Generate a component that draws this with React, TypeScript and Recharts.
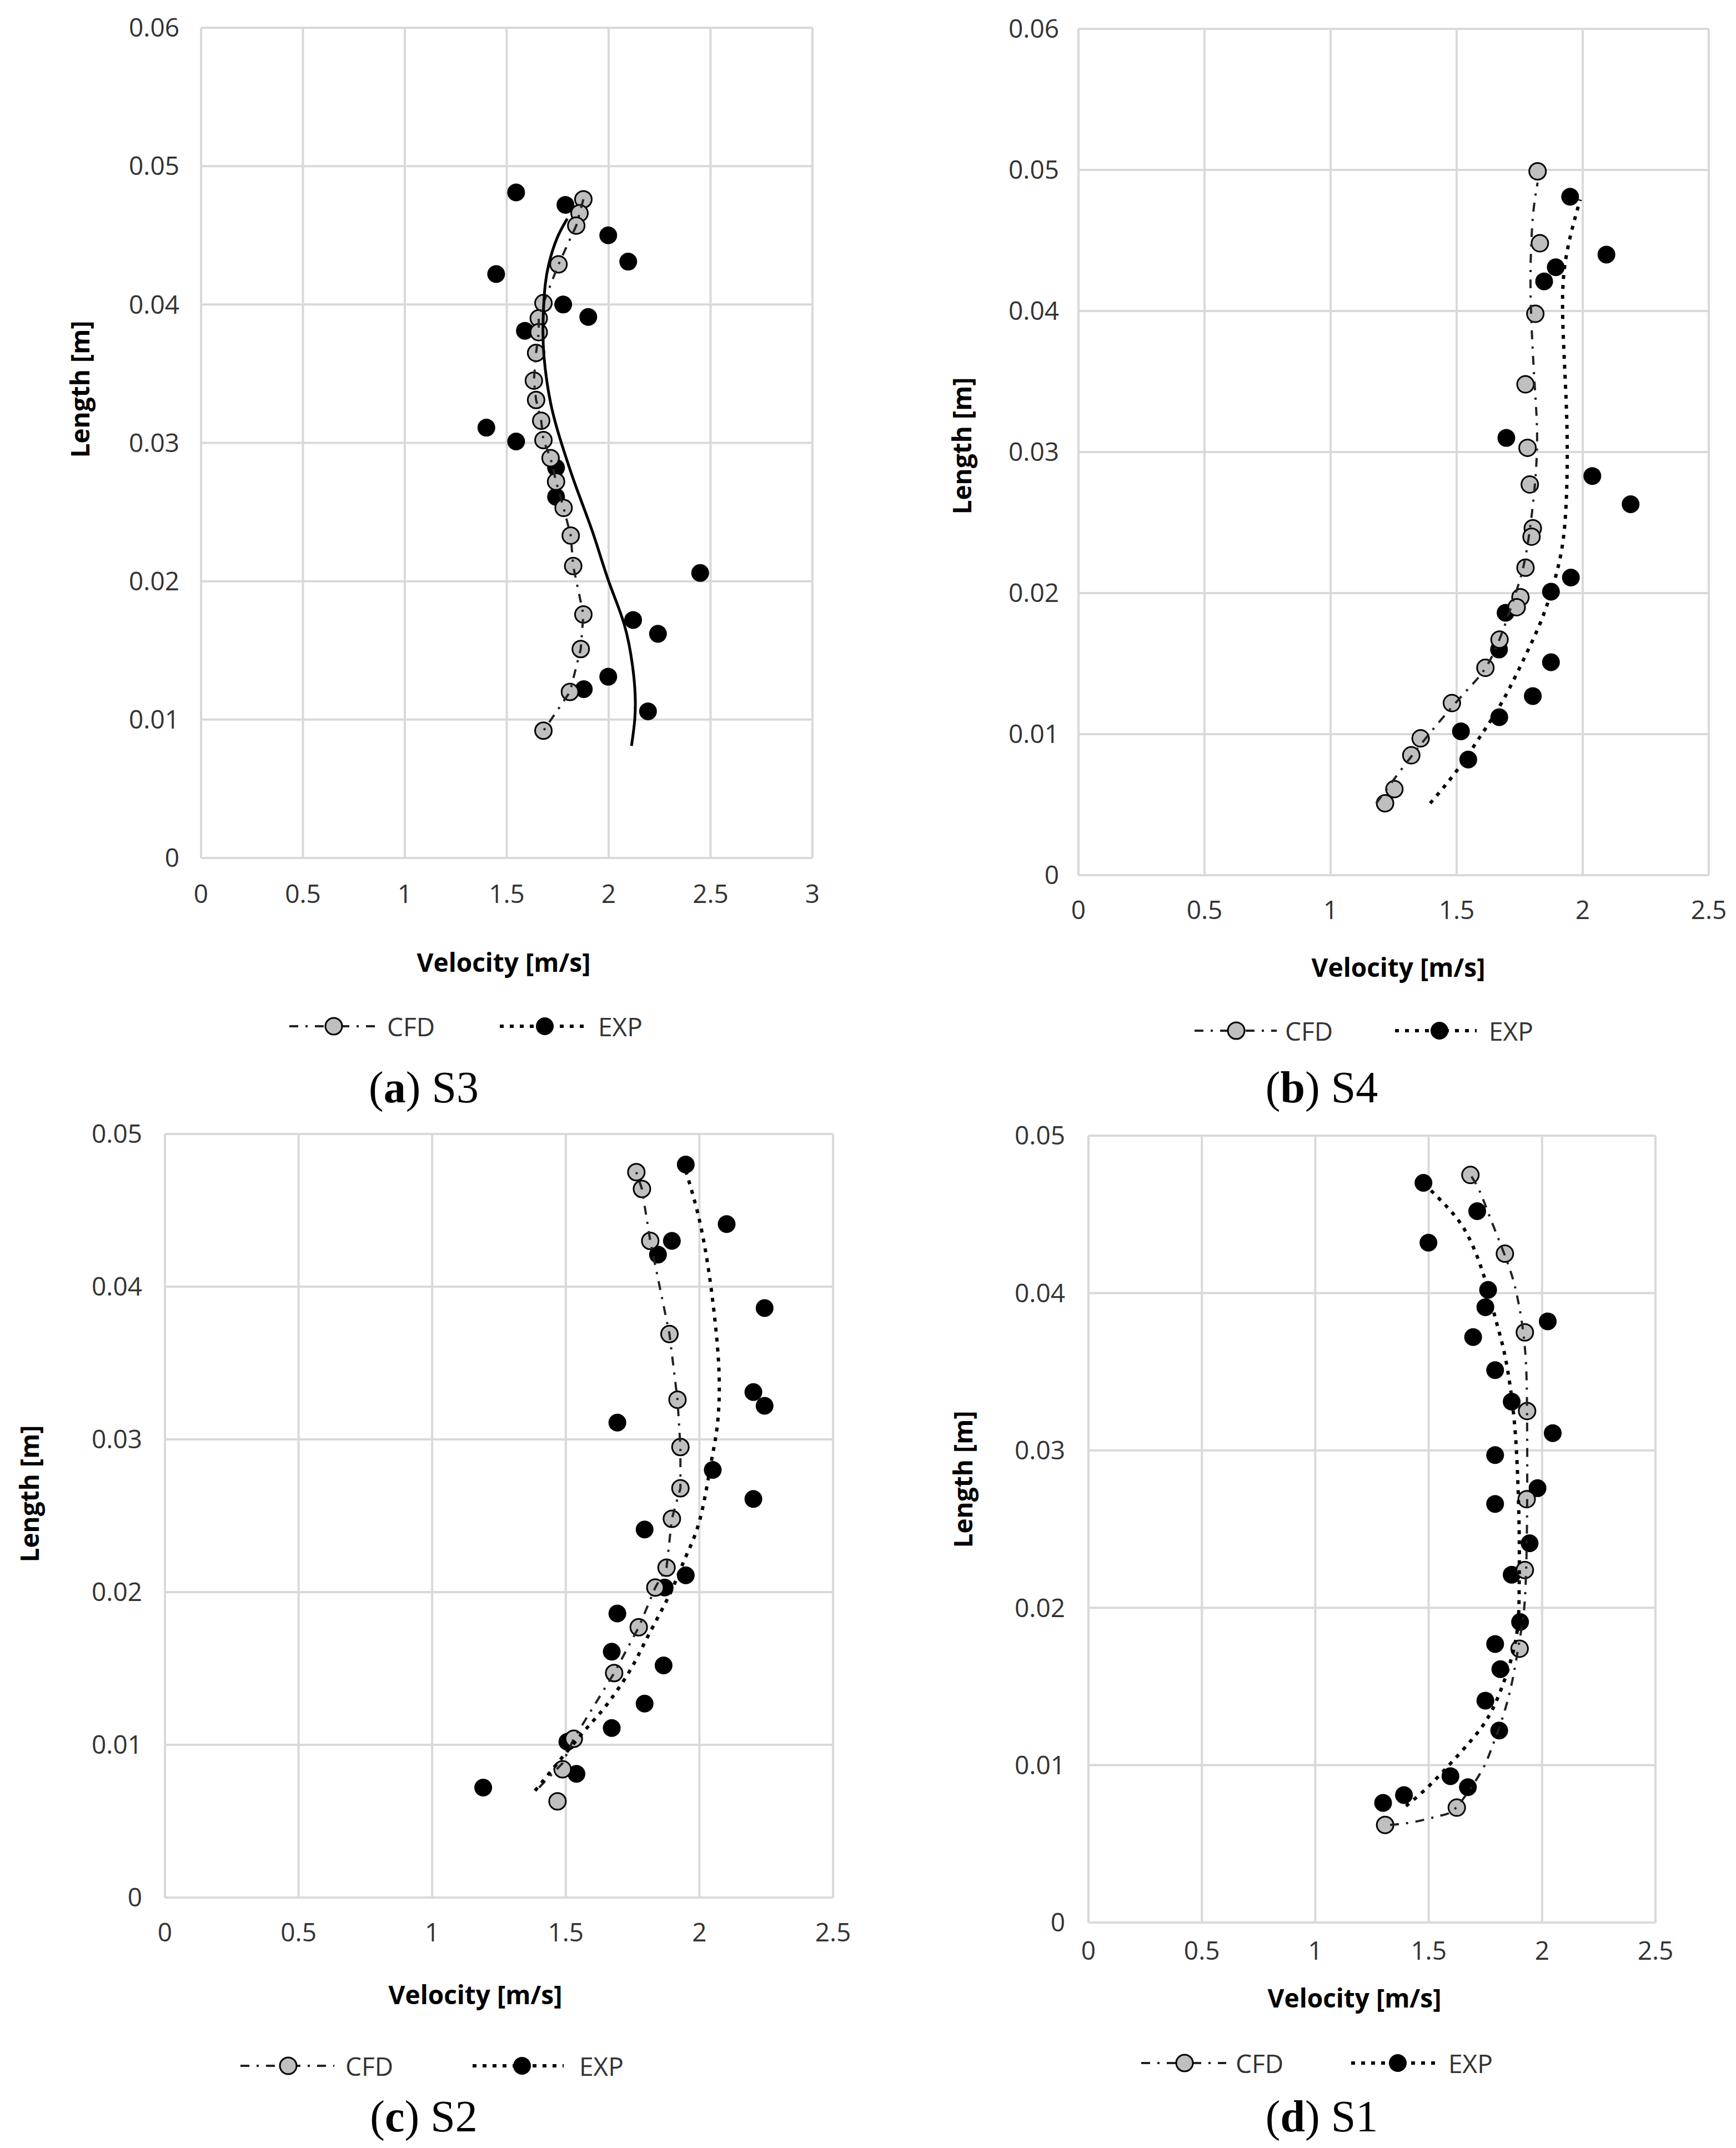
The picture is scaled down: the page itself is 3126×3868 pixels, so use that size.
import React from 'react'
import { CartesianGrid, Scatter, ScatterChart, XAxis, YAxis } from 'recharts'

type Pt = [number, number] // [velocity m/s, length m]

// ---- (a) S3 ----
const s3Cfd: Pt[] = [
  [1.876, 0.0476], [1.857, 0.0466], [1.841, 0.0457], [1.754, 0.0429], [1.68, 0.0401],
  [1.657, 0.039], [1.657, 0.038], [1.644, 0.0365], [1.633, 0.0345], [1.644, 0.0331],
  [1.669, 0.0316], [1.68, 0.0302], [1.715, 0.0289], [1.742, 0.0272], [1.779, 0.0253],
  [1.814, 0.0233], [1.826, 0.0211], [1.876, 0.0176], [1.863, 0.0151], [1.81, 0.012],
  [1.68, 0.0092],
]
const s3Exp: Pt[] = [
  [1.546, 0.0481], [1.788, 0.0472], [1.998, 0.045], [2.096, 0.0431], [1.448, 0.0422],
  [1.777, 0.04], [1.9, 0.0391], [1.589, 0.0381], [1.4, 0.0311], [1.546, 0.0301],
  [1.742, 0.0282], [1.742, 0.0261], [2.449, 0.0206], [2.12, 0.0172], [2.242, 0.0162],
  [1.998, 0.0131], [1.878, 0.0122], [2.193, 0.0106],
]
const s3ExpTrend: Pt[] = [
  [2.112, 0.0081], [2.128, 0.01], [2.13, 0.0118], [2.117, 0.0139], [2.076, 0.0169],
  [2.0, 0.02], [1.925, 0.0234], [1.843, 0.0267], [1.77, 0.0299], [1.715, 0.0329],
  [1.683, 0.0362], [1.678, 0.0386], [1.686, 0.041], [1.706, 0.0429], [1.747, 0.0448],
  [1.797, 0.0462],
]

// ---- (b) S4 ----
const s4Cfd: Pt[] = [
  [1.821, 0.0499], [1.83, 0.0448], [1.812, 0.0398], [1.773, 0.0348], [1.781, 0.0303],
  [1.79, 0.0277], [1.802, 0.0246], [1.797, 0.024], [1.773, 0.0218], [1.753, 0.0197],
  [1.738, 0.019], [1.67, 0.0167], [1.614, 0.0147], [1.481, 0.0122], [1.357, 0.0097],
  [1.32, 0.0085], [1.253, 0.0061], [1.216, 0.0051],
]
const s4Exp: Pt[] = [
  [1.95, 0.0481], [2.094, 0.044], [1.893, 0.0431], [1.847, 0.0421], [1.697, 0.031],
  [2.038, 0.0283], [2.19, 0.0263], [1.953, 0.0211], [1.874, 0.0201], [1.694, 0.0186],
  [1.668, 0.016], [1.874, 0.0151], [1.802, 0.0127], [1.669, 0.0112], [1.517, 0.0102],
  [1.546, 0.0082],
]
const s4CfdTrend: Pt[] = [
  [1.181, 0.0051], [1.264, 0.0071], [1.386, 0.0099], [1.535, 0.013], [1.64, 0.0155],
  [1.727, 0.0196], [1.771, 0.0224], [1.802, 0.0262], [1.819, 0.0306], [1.81, 0.0346],
  [1.797, 0.039], [1.793, 0.0428], [1.802, 0.0466], [1.821, 0.0491],
]
const s4ExpTrend: Pt[] = [
  [1.395, 0.0051], [1.5, 0.0074], [1.596, 0.0099], [1.684, 0.0124], [1.771, 0.0155],
  [1.841, 0.0183], [1.893, 0.0212], [1.924, 0.024], [1.937, 0.0277], [1.937, 0.0321],
  [1.927, 0.0365], [1.92, 0.0403], [1.928, 0.0431], [1.955, 0.0456], [1.99, 0.0479],
]

// ---- (c) S2 ----
const s2Cfd: Pt[] = [
  [1.764, 0.0475], [1.785, 0.0464], [1.816, 0.043], [1.888, 0.0369], [1.918, 0.0326],
  [1.929, 0.0295], [1.929, 0.0268], [1.897, 0.0248], [1.877, 0.0216], [1.835, 0.0203],
  [1.773, 0.0177], [1.681, 0.0147], [1.53, 0.0104], [1.488, 0.0084], [1.469, 0.0063],
]
const s2Exp: Pt[] = [
  [1.949, 0.048], [2.102, 0.0441], [1.897, 0.043], [1.845, 0.0421], [2.244, 0.0386],
  [2.202, 0.0331], [2.244, 0.0322], [1.693, 0.0311], [2.05, 0.028], [2.202, 0.0261],
  [1.795, 0.0241], [1.949, 0.0211], [1.87, 0.0203], [1.693, 0.0186], [1.672, 0.0161],
  [1.866, 0.0152], [1.795, 0.0127], [1.672, 0.0111], [1.506, 0.0102], [1.54, 0.0081],
  [1.191, 0.0072],
]
const s2CfdTrend: Pt[] = [
  [1.4, 0.0072], [1.488, 0.0088], [1.53, 0.0104], [1.681, 0.0147], [1.773, 0.0177],
  [1.835, 0.0203], [1.877, 0.0216], [1.897, 0.0248], [1.929, 0.0268], [1.929, 0.0295],
  [1.918, 0.0326], [1.888, 0.0369], [1.816, 0.043], [1.785, 0.0464], [1.764, 0.0475],
]
const s2ExpTrend: Pt[] = [
  [1.385, 0.007], [1.564, 0.0108], [1.648, 0.0125], [1.738, 0.0148], [1.807, 0.0171],
  [1.89, 0.0199], [1.946, 0.0222], [2.001, 0.0247], [2.043, 0.0284], [2.067, 0.0309],
  [2.074, 0.0341], [2.057, 0.038], [2.029, 0.0417], [1.994, 0.0448], [1.949, 0.0476],
]

// ---- (d) S1 ----
const s1Cfd: Pt[] = [
  [1.684, 0.0475], [1.836, 0.0425], [1.924, 0.0375], [1.934, 0.0325], [1.932, 0.0269],
  [1.924, 0.0224], [1.901, 0.0174], [1.624, 0.0073], [1.308, 0.0062],
]
const s1Exp: Pt[] = [
  [1.477, 0.047], [1.714, 0.0452], [1.499, 0.0432], [1.762, 0.0402], [1.75, 0.0391],
  [2.025, 0.0382], [1.696, 0.0372], [1.793, 0.0351], [1.866, 0.0331], [2.047, 0.0311],
  [1.793, 0.0297], [1.98, 0.0276], [1.793, 0.0266], [1.945, 0.0241], [1.866, 0.0221],
  [1.903, 0.0191], [1.793, 0.0177], [1.816, 0.0161], [1.75, 0.0141], [1.811, 0.0122],
  [1.596, 0.0093], [1.673, 0.0086], [1.391, 0.0081], [1.299, 0.0076],
]
const s1CfdTrend: Pt[] = [
  [1.33, 0.0062], [1.439, 0.0064], [1.554, 0.0068], [1.627, 0.0074], [1.724, 0.0094],
  [1.773, 0.0109], [1.85, 0.0142], [1.899, 0.0178], [1.925, 0.0207], [1.934, 0.0263],
  [1.934, 0.0319], [1.925, 0.0364], [1.89, 0.0398], [1.846, 0.042], [1.776, 0.0446],
  [1.724, 0.0465], [1.684, 0.0475],
]
const s1ExpTrend: Pt[] = [
  [1.4, 0.0074], [1.496, 0.0086], [1.583, 0.0099], [1.689, 0.0116], [1.776, 0.0134],
  [1.846, 0.0159], [1.89, 0.0185], [1.899, 0.0213], [1.899, 0.0249], [1.89, 0.0291],
  [1.873, 0.0325], [1.838, 0.0359], [1.794, 0.0384], [1.741, 0.0412], [1.671, 0.0437],
  [1.592, 0.0453], [1.49, 0.0468],
]

// ---- ticks / labels ----
const xTicks3 = [0, 0.5, 1, 1.5, 2, 2.5, 3]
const xTicks25 = [0, 0.5, 1, 1.5, 2, 2.5]
const yTicks06 = [0, 0.01, 0.02, 0.03, 0.04, 0.05, 0.06]
const yTicks05 = [0, 0.01, 0.02, 0.03, 0.04, 0.05]
const seriesNames = ['CFD', 'EXP']
const xTitle = 'Velocity [m/s]'
const yTitle = 'Length [m]'

const SANS = '"Open Sans", sans-serif'
const SERIF = '"Liberation Serif", serif'
const GRID = '#d9d9d9'
const TXT = '#333'

const CFD_LINE = { stroke: '#222', strokeWidth: 4, strokeDasharray: '16 13 4 13' }
const EXP_LINE = { stroke: '#000', strokeWidth: 6, strokeDasharray: '7 11' }
const SOLID_LINE = { stroke: '#000', strokeWidth: 5 }

const rows = (pts: Pt[]) => pts.map(([v, l]) => ({ v, l }))

const ExpDot = (p: any) => <circle cx={p.cx} cy={p.cy} r={16} fill="#000" />
const CfdDot = (p: any) => (
  <circle cx={p.cx} cy={p.cy} r={15} fill="#bfbfbf" stroke="#000" strokeWidth={3} />
)
const NoDot = () => <g />

interface PanelCfg {
  plot: [number, number, number, number] // left, top, right, bottom (page px)
  xMax: number
  xTicks: number[]
  yMax: number
  yTicks: number[]
  yGap: number
  xGap: number
  cfd: Pt[]
  exp: Pt[]
  cfdTrend: Pt[]
  cfdJoint: 'linear' | 'natural'
  expTrend: Pt[]
  expSolid?: boolean
  xTitleAt: [number, number]
  yTitleAt: [number, number]
  legend: { y: number; cfd: [number, number, number, number]; exp: [number, number, number, number] }
  caption: { x: number; y: number; letter: string; name: string }
}

const panels: PanelCfg[] = [
  {
    plot: [362, 50, 1463, 1545], xMax: 3, xTicks: xTicks3, yMax: 0.06, yTicks: yTicks06,
    yGap: 39, xGap: 48,
    cfd: s3Cfd, exp: s3Exp, cfdTrend: s3Cfd, cfdJoint: 'linear', expTrend: s3ExpTrend, expSolid: true,
    xTitleAt: [907, 1732], yTitleAt: [143, 701],
    legend: { y: 1848, cfd: [521, 676, 601, 697], exp: [900, 1051, 981, 1077] },
    caption: { x: 763, y: 1985, letter: 'a', name: 'S3' },
  },
  {
    plot: [1942, 52, 3077, 1576], xMax: 2.5, xTicks: xTicks25, yMax: 0.06, yTicks: yTicks06,
    yGap: 35, xGap: 46,
    cfd: s4Cfd, exp: s4Exp, cfdTrend: s4CfdTrend, cfdJoint: 'natural', expTrend: s4ExpTrend,
    xTitleAt: [2518, 1741], yTitleAt: [1731, 803],
    legend: { y: 1856, cfd: [2151, 2299, 2226, 2314], exp: [2512, 2659, 2592, 2681] },
    caption: { x: 2380, y: 1985, letter: 'b', name: 'S4' },
  },
  {
    plot: [297, 2042, 1500, 3417], xMax: 2.5, xTicks: xTicks25, yMax: 0.05, yTicks: yTicks05,
    yGap: 41, xGap: 46,
    cfd: s2Cfd, exp: s2Exp, cfdTrend: s2CfdTrend, cfdJoint: 'linear', expTrend: s2ExpTrend,
    xTitleAt: [856, 3591], yTitleAt: [52, 2690],
    legend: { y: 3720, cfd: [433, 602, 519, 622], exp: [851, 1015, 940, 1043] },
    caption: { x: 763, y: 3838, letter: 'c', name: 'S2' },
  },
  {
    plot: [1960, 2045, 2981, 3462], xMax: 2.5, xTicks: xTicks25, yMax: 0.05, yTicks: yTicks05,
    yGap: 42, xGap: 34,
    cfd: s1Cfd, exp: s1Exp, cfdTrend: s1CfdTrend, cfdJoint: 'natural', expTrend: s1ExpTrend,
    xTitleAt: [2439, 3597], yTitleAt: [1733, 2664],
    legend: { y: 3715, cfd: [2055, 2208, 2133, 2225], exp: [2433, 2585, 2517, 2608] },
    caption: { x: 2380, y: 3838, letter: 'd', name: 'S1' },
  },
]

const ML = 220
const MT = 40
const MR = 70
const MB = 130

function Panel({ c }: { c: PanelCfg }) {
  const [pl, pt, pr, pb] = c.plot
  const w = pr - pl + ML + MR
  const h = pb - pt + MT + MB
  const tick = { fontSize: 46, fill: TXT, fontFamily: SANS }
  const axisLine = { stroke: GRID, strokeWidth: 4 }
  return (
    <div style={{ position: 'absolute', left: pl - ML, top: pt - MT }}>
      <ScatterChart width={w} height={h} margin={{ top: MT, right: MR, left: 0, bottom: 0 }}>
        <CartesianGrid stroke={GRID} strokeWidth={4} />
        <XAxis
          type="number" dataKey="v" domain={[0, c.xMax]} ticks={c.xTicks} interval={0}
          height={MB} tickSize={0} tickLine={false} tickMargin={c.xGap}
          axisLine={axisLine} tick={tick} allowDataOverflow
        />
        <YAxis
          type="number" dataKey="l" domain={[0, c.yMax]} ticks={c.yTicks} interval={0}
          width={ML} tickSize={0} tickLine={false} tickMargin={c.yGap}
          axisLine={axisLine} tick={tick} allowDataOverflow
          tickFormatter={(v: number) => String(v)}
        />
        <Scatter data={rows(c.exp)} shape={ExpDot} isAnimationActive={false} />
        <Scatter data={rows(c.cfd)} shape={CfdDot} isAnimationActive={false} />
        <Scatter
          data={rows(c.cfdTrend)} shape={NoDot} isAnimationActive={false}
          line={{ ...CFD_LINE, fill: 'none' }} lineType="joint" lineJointType={c.cfdJoint}
        />
        <Scatter
          data={rows(c.expTrend)} shape={NoDot} isAnimationActive={false}
          line={{ ...(c.expSolid ? SOLID_LINE : EXP_LINE), fill: 'none' }}
          lineType="joint" lineJointType="natural"
        />
      </ScatterChart>
    </div>
  )
}

function Labels({ c }: { c: PanelCfg }) {
  const [cl0, cl1, cm, ct] = c.legend.cfd
  const [el0, el1, em, et] = c.legend.exp
  const ly = c.legend.y
  const [xtx, xty] = c.xTitleAt
  const [ytx, yty] = c.yTitleAt
  return (
    <g>
      <text x={xtx} y={xty} textAnchor="middle" dominantBaseline="central"
        fontFamily={SANS} fontWeight={700} fontSize={46} fill="#000">{xTitle}</text>
      <text x={ytx} y={yty} textAnchor="middle" dominantBaseline="central"
        transform={`rotate(-90 ${ytx} ${yty})`}
        fontFamily={SANS} fontWeight={700} fontSize={46} fill="#000">{yTitle}</text>

      <line x1={cl0} x2={cl1} y1={ly} y2={ly} {...CFD_LINE} />
      <circle cx={cm} cy={ly} r={15} fill="#bfbfbf" stroke="#000" strokeWidth={3} />
      <text x={ct} y={ly} dominantBaseline="central" fontFamily={SANS} fontSize={46} fill={TXT}>
        {seriesNames[0]}
      </text>
      <line x1={el0} x2={el1} y1={ly} y2={ly} {...EXP_LINE} />
      <circle cx={em} cy={ly} r={16} fill="#000" />
      <text x={et} y={ly} dominantBaseline="central" fontFamily={SANS} fontSize={46} fill={TXT}>
        {seriesNames[1]}
      </text>

      <text x={c.caption.x} y={c.caption.y} textAnchor="middle" fontFamily={SERIF} fontSize={80} fill="#000">
        (<tspan fontWeight={700}>{c.caption.letter}</tspan>) {c.caption.name}
      </text>
    </g>
  )
}

export default function App() {
  return (
    <div style={{ position: 'absolute', left: 0, top: 0, width: 3126, height: 3868, background: '#fff' }}>
      {panels.map((c, i) => <Panel key={i} c={c} />)}
      <svg width={3126} height={3868} style={{ position: 'absolute', left: 0, top: 0, pointerEvents: 'none' }}>
        {panels.map((c, i) => <Labels key={i} c={c} />)}
      </svg>
    </div>
  )
}
